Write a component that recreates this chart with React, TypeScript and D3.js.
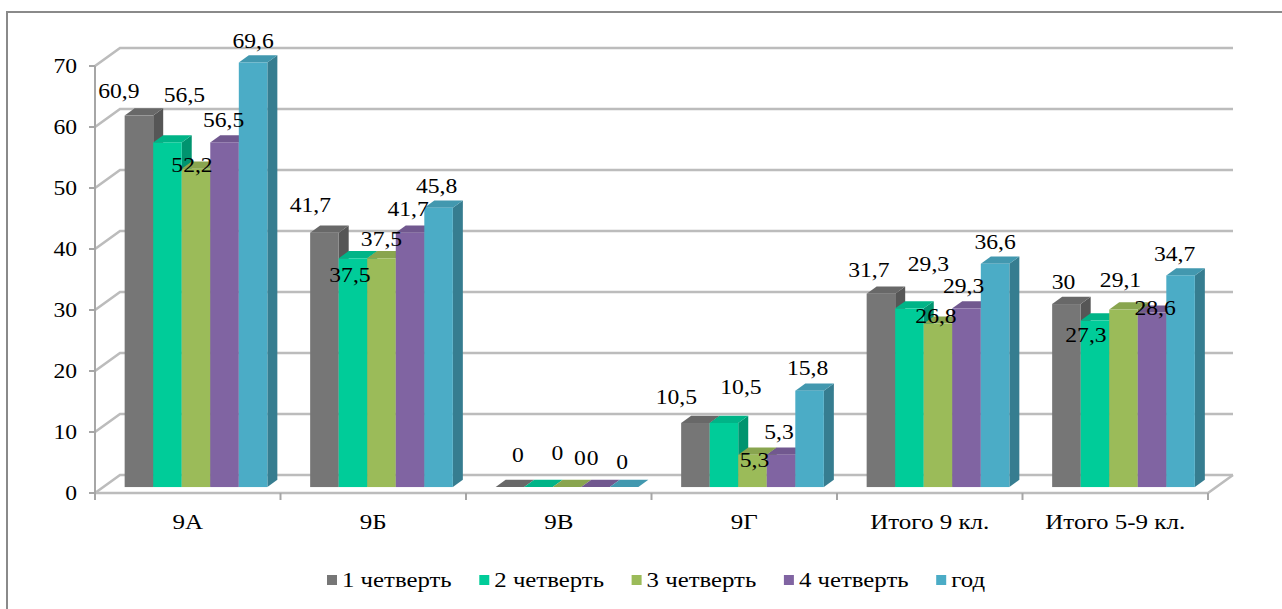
import React from "react";
import * as d3 from "d3";

const categories = ["9А", "9Б", "9В", "9Г", "Итого 9 кл.", "Итого 5-9 кл."];
const seriesNames = ["1 четверть", "2 четверть", "3 четверть", "4 четверть", "год"];
const q1 = [60.9, 41.7, 0, 10.5, 31.7, 30];
const q2 = [56.5, 37.5, 0, 10.5, 29.3, 27.3];
const q3 = [52.2, 37.5, 0, 5.3, 26.8, 29.1];
const q4 = [56.5, 41.7, 0, 5.3, 29.3, 28.6];
const yearVals = [69.6, 45.8, 0, 15.8, 36.6, 34.7];
const yTicks = [0, 10, 20, 30, 40, 50, 60, 70];
const seriesValues = [q1, q2, q3, q4, yearVals];
const colors = ["#767676", "#00CC99", "#9BBB59", "#8064A2", "#4BACC6"];

// label nudges [dx, dy] relative to bar top centre (per category, per series)
const labelNudge = [
  [[-20, -25], [17, -47], [-4, -4], [-1, -22], [0, -22]],
  [[-14, -28], [-3, 17], [0, -19], [-2, -24], [-2, -22]],
  [[8, -32], [19, -34], [13, -29], [-3, -29], [-2, -25]],
  [[-19, -26], [17, -36], [2, 5], [-2, -23], [-2, -23]],
  [[-12, -24], [19, -44], [-2, -8], [-3, -22], [0, -22]],
  [[-3, -22], [-9, 14], [-3, -30], [3, -5], [-6, -21]],
];

const W = 1282;
const H = 609;
const X0 = 95, X1 = 1208, YB = 493, YT = 66;
const DX = 25, DY = -18;
const FRONT = 0.33, DEPTH = 0.4;
const FONT = "'Liberation Serif', 'Times New Roman', serif";

function fmt(v: number) {
  return String(v).replace(".", ",");
}

function T({ x, y, children, anchor = "middle", size = 20, sx = 1.18 }: any) {
  return (
    <text
      transform={`translate(${x},${y}) scale(${sx},1)`}
      textAnchor={anchor}
      dy="0.35em"
      fontFamily={FONT}
      fontSize={size}
      fill="#000"
    >
      {children}
    </text>
  );
}

export default function App() {
  const x = d3.scaleBand<string>().domain(categories).range([X0, X1]).padding(0);
  const xi = d3
    .scaleBand<string>()
    .domain(seriesNames)
    .range([0, x.bandwidth()])
    .paddingInner(0)
    .paddingOuter(0.75);
  const y = d3.scaleLinear().domain([0, 70]).range([YB, YT]);
  const fx = DX * FRONT, fy = DY * FRONT;
  const bx = DX * DEPTH, by = DY * DEPTH;
  const bw = xi.bandwidth();
  const grid = "#bcbcbc";

  const bars: any[] = [];
  const labels: any[] = [];
  categories.forEach((c, ci) => {
    seriesNames.forEach((s, si) => {
      const v = seriesValues[si][ci];
      const xl = (x(c) as number) + (xi(s) as number) + fx;
      const xr = xl + bw;
      const yt = y(v) + fy;
      const yb = y(0) + fy;
      const col = d3.color(colors[si]) as any;
      const side = col.darker(0.9).formatHex();
      const top = col.darker(0.35).formatHex();
      bars.push(
        <g key={`${ci}-${si}`}>
          <polygon
            points={`${xr},${yt} ${xr + bx},${yt + by} ${xr + bx},${yb + by} ${xr},${yb}`}
            fill={side}
          />
          <polygon
            points={`${xl},${yt} ${xr},${yt} ${xr + bx},${yt + by} ${xl + bx},${yt + by}`}
            fill={top}
          />
          <rect x={xl} y={yt} width={bw} height={Math.max(0, yb - yt)} fill={colors[si]} />
        </g>
      );
      const [ndx, ndy] = labelNudge[ci][si];
      labels.push(
        <T key={`l${ci}-${si}`} x={xl + bw / 2 + ndx} y={yt + ndy}>
          {fmt(v)}
        </T>
      );
    });
  });

  return (
    <svg width={W} height={H} style={{ position: "absolute", left: 0, top: 0, background: "#fff" }}>
      <defs>
        <filter id="soft" x="-5%" y="-50%" width="110%" height="200%">
          <feGaussianBlur stdDeviation="0.6" />
        </filter>
      </defs>
      <rect x={0} y={0} width={W} height={H} fill="#fff" />
      <rect x={7} y={12} width={1400} height={800} fill="none" stroke="#8a8a8a" strokeWidth={2} />

      <g stroke={grid} strokeWidth={2.6} fill="none" filter="url(#soft)">
        {yTicks.map((t) => (
          <polyline
            key={t}
            points={`${X0},${y(t)} ${X0 + DX},${y(t) + DY} ${X1 + DX},${y(t) + DY}`}
          />
        ))}
        <polyline points={`${X0},${YB} ${X1},${YB} ${X1 + DX},${YB + DY}`} />
      </g>
      <g stroke="#a6a6a6" strokeWidth={2}>
        <line x1={X0} y1={YT} x2={X0} y2={YB} />
        {yTicks.map((t) => (
          <line key={t} x1={X0 - 6} y1={y(t)} x2={X0} y2={y(t)} />
        ))}
        {d3.range(categories.length + 1).map((i) => (
          <line key={i} x1={X0 + i * x.step()} y1={YB} x2={X0 + i * x.step()} y2={YB + 7} />
        ))}
      </g>

      {bars}
      {labels}

      {yTicks.map((t) => (
        <T key={t} x={77} y={y(t)} anchor="end">
          {t}
        </T>
      ))}
      {categories.map((c) => (
        <T key={c} x={(x(c) as number) + x.bandwidth() / 2} y={522} sx={1.25}>
          {c}
        </T>
      ))}

      {seriesNames.map((s, i) => (
        <g key={s}>
          <rect x={327 + i * 152.3} y={575} width={10} height={10} fill={colors[i]} />
          <T x={342 + i * 152.3} y={580} anchor="start" sx={1.24}>
            {s}
          </T>
        </g>
      ))}
    </svg>
  );
}
